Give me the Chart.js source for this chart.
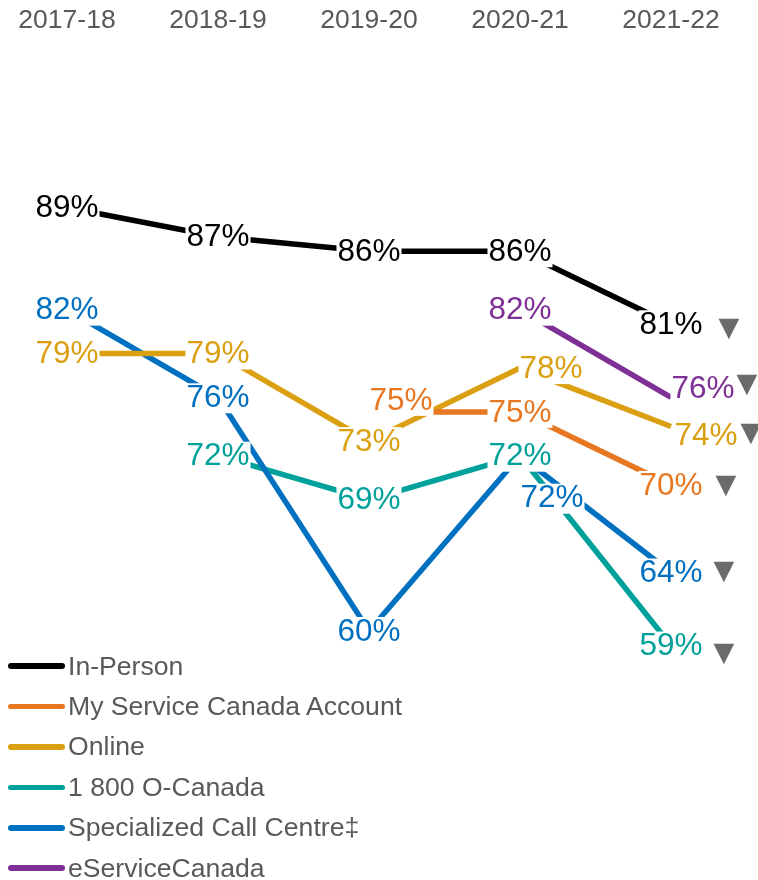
<!DOCTYPE html>
<html><head><meta charset="utf-8">
<script src="https://cdn.jsdelivr.net/npm/chart.js@4/dist/chart.umd.min.js"></script>
<style>
html,body{margin:0;padding:0;background:#fff;}
#wrap{position:relative;width:758px;height:880px;overflow:hidden;}
#c{position:absolute;left:0;top:0;}
#legend{position:absolute;left:0;top:646px;font:26.6px 'Liberation Sans',Arial,sans-serif;color:#595959;}
.item{display:flex;align-items:center;height:40.4px;white-space:nowrap;}
.swatch{width:57px;height:5.5px;border-radius:3px;margin-left:8px;margin-right:3px;flex:none;}
</style></head><body>
<div id="wrap"><canvas id="c" width="758" height="880"></canvas><div id="legend"></div></div>
<script>
// ---- data ----
const years = ['2017-18', '2018-19', '2019-20', '2020-21', '2021-22'];
const inPerson = [89, 87, 86, 86, 81];
const myServiceCanadaAccount = [null, null, 75, 75, 70];
const online = [79, 79, 73, 78, 74];
const oCanada1800 = [null, 72, 69, 72, 59];
const specializedCallCentre = [82, 76, 60, 72, 64];
const eServiceCanada = [null, null, null, 82, 76];
// ▼ = statistically significant decrease (per year)
const significantDecrease = [false, false, false, false, true];

// ---- styling ----
const FONT = "'Liberation Sans', Arial, sans-serif";
const series = [
  {label: 'In-Person', data: inPerson, color: '#000000', order: 0},
  {label: 'My Service Canada Account', data: myServiceCanadaAccount, color: '#E87722', order: 1},
  {label: 'Online', data: online, color: '#DBA012', order: 2},
  {label: '1 800 O-Canada', data: oCanada1800, color: '#00A19A', order: 4},
  {label: 'Specialized Call Centre\u2021', data: specializedCallCentre, color: '#0070C0', order: 3},
  {label: 'eServiceCanada', data: eServiceCanada, color: '#7F3096', order: 5}
];
// label displacement from its point (px), by series label and year index
const labelShift = {
  'Online': {3: [31, 0], 4: [35, 9]},
  'eServiceCanada': {4: [32, -9]},
  'Specialized Call Centre\u2021': {3: [32, 42]},
  'My Service Canada Account': {2: [32, -12]}
};
// ▼ marker displacement from its point (px)
const markerShift = {
  'In-Person': [58, 5],
  'eServiceCanada': [76, -12],
  'Online': [80, 7],
  'My Service Canada Account': [55, 1],
  'Specialized Call Centre\u2021': [53, -1],
  '1 800 O-Canada': [53, 8]
};

const valueLabels = {
  id: 'valueLabels',
  afterDatasetsDraw(chart) {
    const ctx = chart.ctx;
    ctx.save();
    ctx.font = '31.5px ' + FONT;
    ctx.textAlign = 'center';
    ctx.textBaseline = 'middle';
    const items = [];
    chart.data.datasets.forEach((ds, di) => {
      const meta = chart.getDatasetMeta(di);
      meta.data.forEach((pt, i) => {
        const v = ds.data[i];
        if (v == null) return;
        const s = (labelShift[ds.label] && labelShift[ds.label][i]) || [0, 0];
        items.push({x: pt.x + s[0], y: pt.y + s[1] + 1, text: v + '%', color: ds.borderColor,
                    px: pt.x, py: pt.y, mark: significantDecrease[i], name: ds.label});
      });
    });
    ctx.fillStyle = '#ffffff';
    items.forEach(it => {
      const w = ctx.measureText(it.text).width;
      ctx.fillRect(it.x - w / 2 - 1, it.y - 15, w + 2, 30);
    });
    items.forEach(it => {
      ctx.fillStyle = it.color;
      ctx.fillText(it.text, it.x, it.y);
    });
    ctx.font = "27px 'DejaVu Sans', " + FONT;
    ctx.fillStyle = '#6B6B6B';
    items.forEach(it => {
      if (!it.mark) return;
      const m = markerShift[it.name] || [55, 0];
      ctx.fillText('\u25BC', it.px + m[0], it.py + m[1]);
    });
    ctx.restore();
  }
};

const chart = new Chart(document.getElementById('c'), {
  type: 'line',
  data: {
    labels: years,
    datasets: series.map(s => ({
      label: s.label, data: s.data, borderColor: s.color, backgroundColor: s.color,
      order: s.order, clip: false
    }))
  },
  options: {
    responsive: false,
    animation: false,
    layout: {padding: {left: 67, right: 87, top: -5, bottom: 103}},
    elements: {
      point: {radius: 0, hoverRadius: 0},
      line: {borderWidth: 5.5, tension: 0, borderCapStyle: 'butt', fill: false}
    },
    plugins: {legend: {display: false}, tooltip: {enabled: false}},
    scales: {
      x: {
        position: 'top',
        grid: {display: false, drawTicks: false},
        border: {display: false},
        ticks: {color: '#595959', font: {size: 26.5, family: FONT}, padding: 10, autoSkip: false, maxRotation: 0}
      },
      y: {display: false, min: 50, max: 100}
    }
  },
  plugins: [valueLabels]
});

// legend (HTML, built from the chart's datasets)
const legendEl = document.getElementById('legend');
chart.data.datasets.forEach(ds => {
  const row = document.createElement('div');
  row.className = 'item';
  const sw = document.createElement('span');
  sw.className = 'swatch';
  sw.style.background = ds.borderColor;
  const tx = document.createElement('span');
  tx.textContent = ds.label;
  row.appendChild(sw);
  row.appendChild(tx);
  legendEl.appendChild(row);
});
</script>
</body></html>
